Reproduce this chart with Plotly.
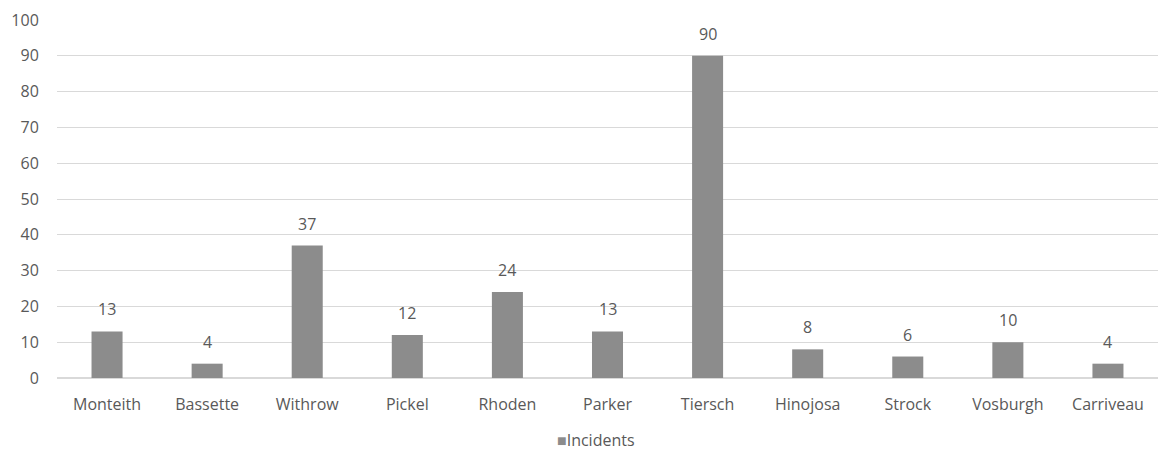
import plotly.graph_objects as go

categories = ["Monteith", "Bassette", "Withrow", "Pickel", "Rhoden", "Parker",
              "Tiersch", "Hinojosa", "Strock", "Vosburgh", "Carriveau"]
incidents = [13, 4, 37, 12, 24, 13, 90, 8, 6, 10, 4]
y_ticks = [0, 10, 20, 30, 40, 50, 60, 70, 80, 90, 100]
series_name = "Incidents"

bar_color = "#8c8c8c"
text_color = "#595959"
font_family = "Open Sans"

fig = go.Figure()
fig.add_trace(go.Bar(x=categories, y=incidents, name=series_name,
                     marker=dict(color=bar_color, line=dict(width=0)),
                     showlegend=False))

for c, v in zip(categories, incidents):
    fig.add_annotation(x=c, y=v, text=str(v), showarrow=False,
                       yanchor="bottom", yshift=9,
                       font=dict(size=16, color=text_color, family=font_family))

# legend drawn as text: coloured square + series name
fig.add_annotation(xref="paper", yref="paper", x=0.49, y=-0.174,
                   xanchor="center", yanchor="middle", showarrow=False,
                   text=(f"<span style='color:{bar_color}'>■</span>"
                         f"{series_name}"),
                   font=dict(size=16, color=text_color, family=font_family))

fig.update_layout(
    width=1159, height=452,
    margin=dict(l=57, r=1, t=20, b=74),
    paper_bgcolor="white", plot_bgcolor="white",
    bargap=0.69,
    font=dict(family=font_family, size=16, color=text_color),
    showlegend=False,
    xaxis=dict(showgrid=False, showline=False, zeroline=False,
               ticks="outside", ticklen=12, tickcolor="rgba(0,0,0,0)",
               tickfont=dict(size=16, color=text_color)),
    yaxis=dict(range=[0, 100], tickvals=y_ticks, showgrid=True, gridcolor="#d9d9d9",
               gridwidth=1, zeroline=True, zerolinecolor="#d9d9d9", showline=False,
               ticks="outside", ticklen=14, tickcolor="rgba(0,0,0,0)",
               tickfont=dict(size=16, color=text_color)),
)

fig.write_html("out.html")
